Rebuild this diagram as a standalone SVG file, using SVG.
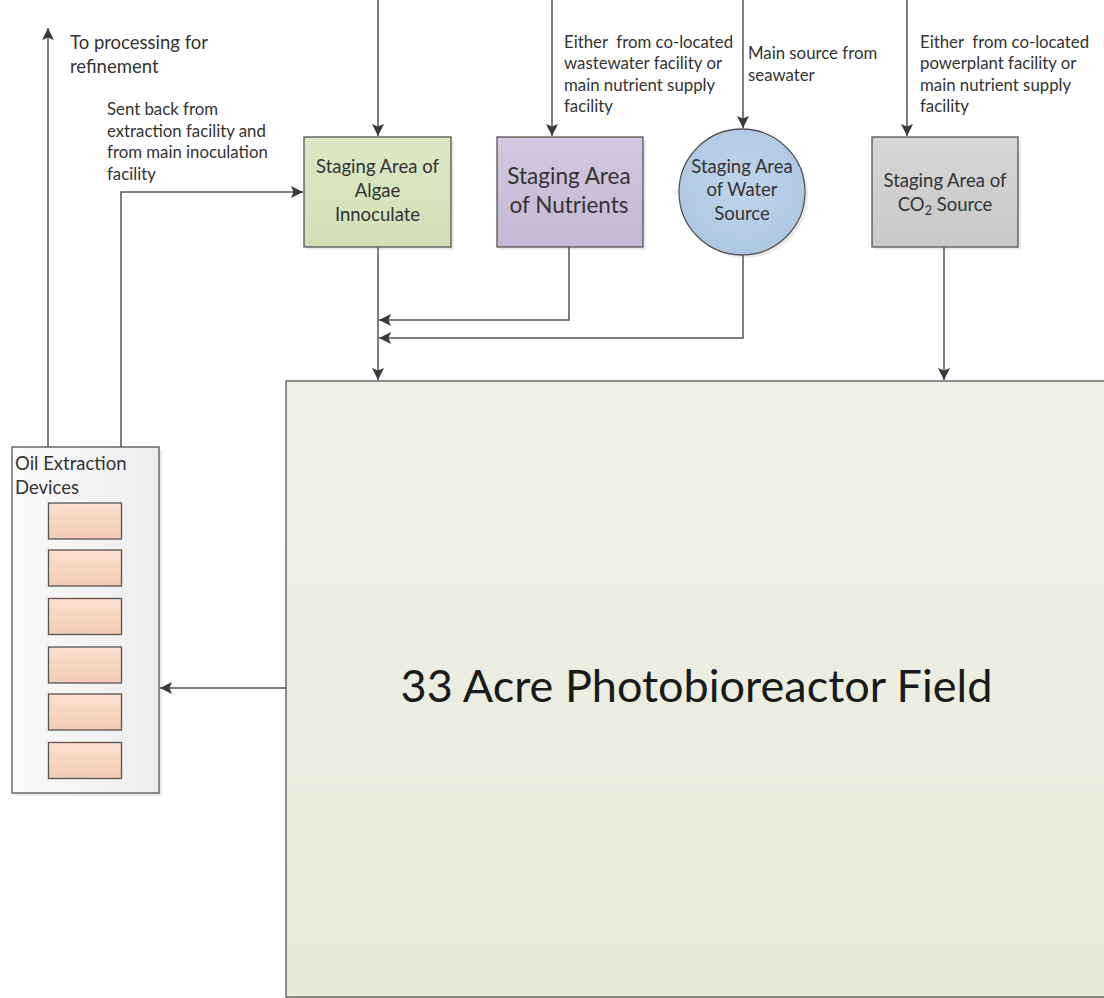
<svg xmlns="http://www.w3.org/2000/svg" width="1104" height="998" viewBox="0 0 1104 998">
<defs>
<style>
text{font-family:Lato,"Liberation Sans",sans-serif;fill:#333;}
.ann{font-size:16.8px;}
.big{font-size:18.5px;}
.node{font-size:18.5px;text-anchor:middle;}
.line{fill:none;stroke:#555;stroke-width:1.5;}
.box{stroke:#555;stroke-width:1.3;}
.shadow{fill:#000;opacity:0.08;}
</style>
<marker id="arr" markerUnits="userSpaceOnUse" markerWidth="14" markerHeight="14" viewBox="0 0 14 14" refX="13" refY="7" orient="auto">
<path d="M1,1 L13,7 L1,13 L3.5,7 z" fill="#3a3a3a"/>
</marker>
<linearGradient id="gAlgae" x1="0" y1="0" x2="0" y2="1"><stop offset="0" stop-color="#dde8c6"/><stop offset="1" stop-color="#d2dfb6"/></linearGradient>
<linearGradient id="gNut" x1="0" y1="0" x2="0" y2="1"><stop offset="0" stop-color="#d2c8df"/><stop offset="1" stop-color="#c4b8d4"/></linearGradient>
<radialGradient id="gWater" cx="0.5" cy="0.45" r="0.6"><stop offset="0" stop-color="#c0d5ea"/><stop offset="1" stop-color="#adc7e1"/></radialGradient>
<linearGradient id="gCO2" x1="0" y1="0" x2="0" y2="1"><stop offset="0" stop-color="#d6d6d6"/><stop offset="1" stop-color="#c8c8c8"/></linearGradient>
<linearGradient id="gField" x1="0" y1="0" x2="0" y2="1"><stop offset="0" stop-color="#eff1e8"/><stop offset="1" stop-color="#e7ead9"/></linearGradient>
<linearGradient id="gOil" x1="0" y1="0" x2="1" y2="0"><stop offset="0" stop-color="#fafafa"/><stop offset="1" stop-color="#ededed"/></linearGradient>
<linearGradient id="gDev" x1="0" y1="0" x2="0" y2="1"><stop offset="0" stop-color="#fae0d0"/><stop offset="1" stop-color="#f5cbb1"/></linearGradient>
</defs>
<rect width="1104" height="998" fill="#fff"/>

<g id="field">
<rect class="shadow" x="289" y="384" width="820" height="616"/>
<rect class="box" x="286" y="381" width="822" height="616" fill="url(#gField)"/>
<text x="696.5" y="702" text-anchor="middle" style="font-size:45px;fill:#1a1a1a">33 Acre Photobioreactor Field</text>
</g>

<g id="algae">
<rect class="shadow" x="307" y="140" width="147" height="110"/>
<rect class="box" x="304" y="137" width="147" height="110" fill="url(#gAlgae)"/>
<text class="node" x="377.5" y="173">Staging Area of</text>
<text class="node" x="377.5" y="197">Algae</text>
<text class="node" x="377.5" y="221">Innoculate</text>
</g>

<g id="nutrients">
<rect class="shadow" x="500" y="140" width="146" height="110"/>
<rect class="box" x="497" y="137" width="146" height="110" fill="url(#gNut)"/>
<text class="node" x="569" y="184" style="font-size:22.5px">Staging Area</text>
<text class="node" x="569" y="213" style="font-size:22.5px">of Nutrients</text>
</g>

<g id="water">
<circle class="shadow" cx="745" cy="195" r="63"/>
<circle class="box" cx="742" cy="192" r="63" fill="url(#gWater)"/>
<text class="node" x="742" y="173">Staging Area</text>
<text class="node" x="742" y="196">of Water</text>
<text class="node" x="742" y="220">Source</text>
</g>

<g id="co2">
<rect class="shadow" x="875" y="140" width="146" height="110"/>
<rect class="box" x="872" y="137" width="146" height="110" fill="url(#gCO2)"/>
<text class="node" x="945" y="187">Staging Area of</text>
<text class="node" x="945" y="211">CO<tspan style="font-size:12.5px" dy="4">2</tspan><tspan dy="-4"> Source</tspan></text>
</g>

<g id="oil">
<rect class="shadow" x="15" y="450" width="147" height="346"/>
<rect class="box" x="12" y="447" width="147" height="346" fill="url(#gOil)"/>
<text class="big" x="15" y="470">Oil Extraction</text>
<text class="big" x="15" y="494">Devices</text>
<g fill="url(#gDev)" class="box">
<rect x="48.5" y="503" width="73" height="36"/>
<rect x="48.5" y="550" width="73" height="36"/>
<rect x="48.5" y="598.5" width="73" height="36"/>
<rect x="48.5" y="647" width="73" height="36"/>
<rect x="48.5" y="694" width="73" height="36"/>
<rect x="48.5" y="742.5" width="73" height="36"/>
</g>
</g>

<g id="labels">
<text class="big" x="70" y="49">To processing for</text>
<text class="big" x="70" y="73">refinement</text>
<text class="ann" x="107" y="115">Sent back from</text>
<text class="ann" x="107" y="137">extraction facility and</text>
<text class="ann" x="107" y="158">from main inoculation</text>
<text class="ann" x="107" y="180">facility</text>
<text class="ann" x="564" y="48" xml:space="preserve">Either  from co-located</text>
<text class="ann" x="564" y="69">wastewater facility or</text>
<text class="ann" x="564" y="91">main nutrient supply</text>
<text class="ann" x="564" y="112">facility</text>
<text class="ann" x="748" y="59">Main source from</text>
<text class="ann" x="748" y="81">seawater</text>
<text class="ann" x="920" y="48" xml:space="preserve">Either  from co-located</text>
<text class="ann" x="920" y="69">powerplant facility or</text>
<text class="ann" x="920" y="91">main nutrient supply</text>
<text class="ann" x="920" y="112">facility</text>
</g>

<g id="connectors">
<path class="line" d="M378,0 V136" marker-end="url(#arr)"/>
<path class="line" d="M552,0 V136" marker-end="url(#arr)"/>
<path class="line" d="M743,0 V128" marker-end="url(#arr)"/>
<path class="line" d="M907,0 V136" marker-end="url(#arr)"/>
<path class="line" d="M378,247 V380" marker-end="url(#arr)"/>
<path class="line" d="M569,247 V320 H379" marker-end="url(#arr)"/>
<path class="line" d="M743,255 V338 H379" marker-end="url(#arr)"/>
<path class="line" d="M944,247 V380" marker-end="url(#arr)"/>
<path class="line" d="M286,688 H160" marker-end="url(#arr)"/>
<path class="line" d="M48,447 V28" marker-end="url(#arr)"/>
<path class="line" d="M121,447 V192 H303" marker-end="url(#arr)"/>
</g>
</svg>
